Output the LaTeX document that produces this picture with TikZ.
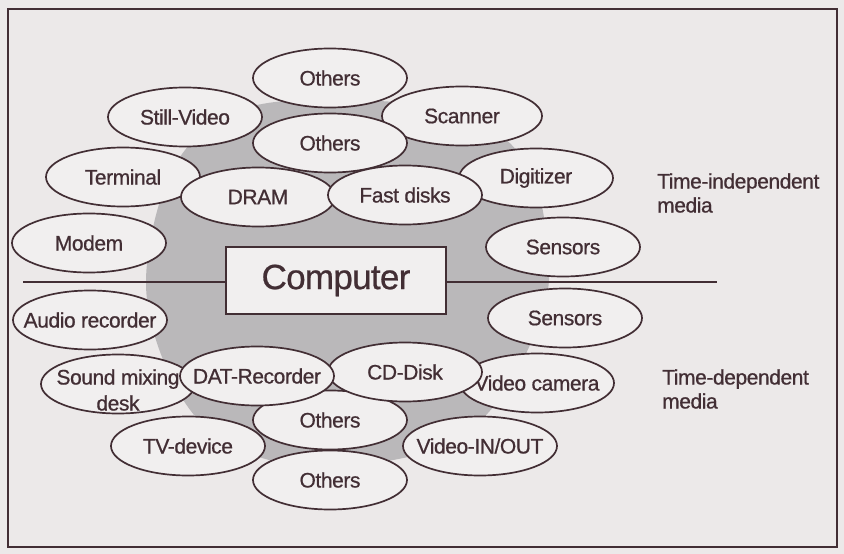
\documentclass[tikz,border=0pt]{standalone}
\usepackage{fontspec}
\setmainfont[FakeBold=0.7, LetterSpace=-2]{Liberation Sans}
\usetikzlibrary{shapes.geometric}
\definecolor{paper}{RGB}{236,233,233}
\definecolor{ink}{RGB}{66,46,52}
\definecolor{blobgray}{RGB}{186,184,186}
\definecolor{efill}{RGB}{241,239,239}
\newcommand{\lb}[1]{\makebox[0pt]{#1}}
\begin{document}
\begin{tikzpicture}[x=1pt,y=-1pt,
  dev/.style={ellipse, draw=ink, line width=1.7pt, fill=efill,
    minimum width=154pt, minimum height=59pt, inner sep=0pt,
    font=\fontsize{21}{25}\selectfont, text=ink},
  compbox/.style={rectangle, draw=ink, line width=2pt, fill=efill,
    minimum width=220pt, minimum height=67pt, inner sep=0pt,
    font=\fontsize{35}{40}\selectfont, text=ink},
  side/.style={align=left, anchor=west, inner sep=0pt,
    font=\fontsize{21}{24}\selectfont, text=ink},
  rule/.style={draw=ink, line width=1.6pt}]
\fill[paper] (0,0) rectangle (844,554);
\useasboundingbox (0,0) rectangle (844,554);
\draw[ink, line width=1.2pt] (8,9) rectangle (837,547);
% gray background blob
\fill[blobgray] plot[smooth cycle, tension=0.6] coordinates {
  (330,100) (420,105) (490,128) (530,170) (546,230) (548,290)
  (530,345) (495,405) (440,448) (330,468) (262,458) (215,435)
  (182,398) (156,340) (146,282) (156,215) (178,160) (215,122) (262,104)};
% computer and the dividing line
\node[compbox] (comp) at (336,280.5) {Computer};
\coordinate (lend) at (23,282);
\coordinate (rend) at (717,282);
\draw[rule] (lend) -- (lend -| comp.west);
\draw[rule] (rend -| comp.east) -- (rend);
% time-independent media
\node[dev] (othA) at (330,78) {\lb{Others}};
\node[dev] (still) at (185,117) {\lb{Still-Video}};
\node[dev, minimum width=160pt] (scan) at (462,116) {\lb{Scanner}};
\node[dev] (othB) at (330,143) {\lb{Others}};
\node[dev] (term) at (123,177) {\lb{Terminal}};
\node[dev] (digi) at (536,178) {\lb{Digitizer}};
\node[dev] (dram) at (258,197) {\lb{DRAM}};
\node[dev] (fast) at (405,195) {\lb{Fast disks}};
\node[dev] (modem) at (89,243) {\lb{Modem}};
\node[dev] (sensA) at (563,247) {\lb{Sensors}};
% time-dependent media
\node[dev] (audio) at (90,320) {\lb{Audio recorder}};
\node[dev] (sensB) at (565,318) {\lb{Sensors}};
\node[dev] (othD) at (330,480) {\lb{Others}};
\node[dev] (tv) at (188,446) {\lb{TV-device}};
\node[dev] (vio) at (480,446) {\lb{Video-IN/OUT}};
\node[dev] (othC) at (330,420) {\lb{Others}};
\node[dev] (vcam) at (537,383) {\lb{Video camera}};
\node[dev, label={[align=center, yshift=-6pt, text=ink, inner sep=0pt,
  font=\fontsize{21}{26}\selectfont]center:Sound mixing\\desk}] (sound) at (118,384) {};
\node[dev] (cd) at (405,372) {\lb{CD-Disk}};
\node[dev] (dat) at (257,376) {\lb{DAT-Recorder}};
% side labels
\node[side] (ti) at (657,193) {Time-independent\\media};
\node[side] (td) at (662,389) {Time-dependent\\media};
\end{tikzpicture}
\end{document}
